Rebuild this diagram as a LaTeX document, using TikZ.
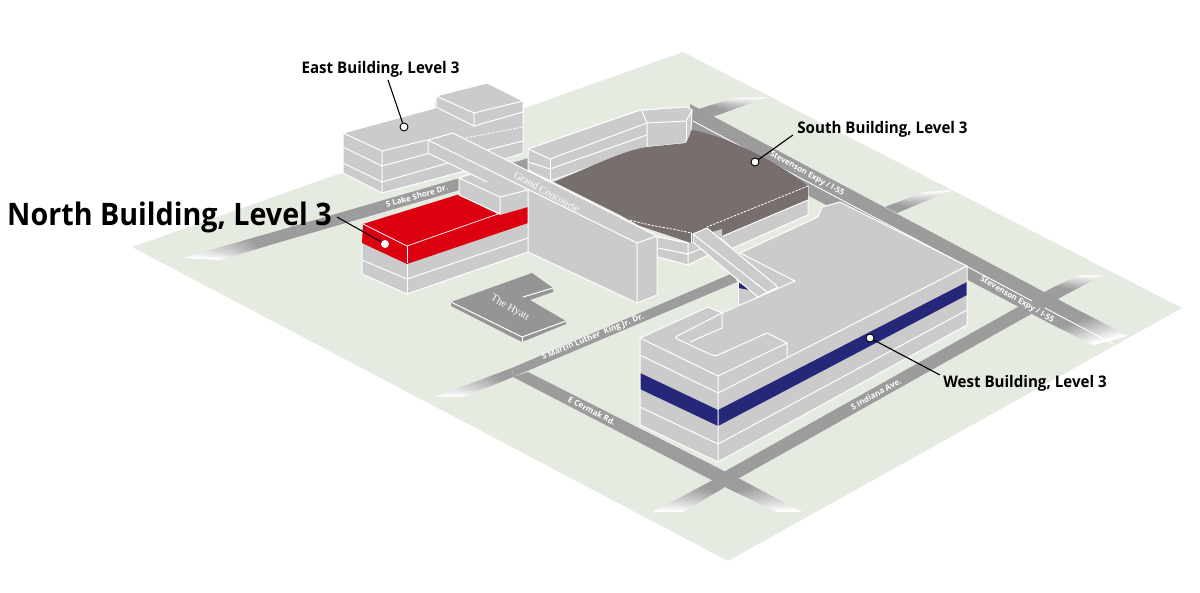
\documentclass[tikz,border=0pt]{standalone}
\usepackage{fontspec}
\setmainfont{Open Sans}
\newfontfamily\serifl{Liberation Serif}
\usetikzlibrary{calc}
\definecolor{ground}{HTML}{E6EBE2}
\definecolor{road}{HTML}{9C9C9C}
\definecolor{bld}{HTML}{CBCBCB}
\definecolor{south}{HTML}{776E6E}
\definecolor{northred}{HTML}{DC0011}
\definecolor{navy}{HTML}{27277A}
\definecolor{hyatt}{HTML}{959595}
\tikzset{
  wl/.style={white,line width=1pt,line join=round,line cap=round},
  thin wl/.style={white,line width=.7pt},
  dash wl/.style={white,line width=.8pt,dash pattern=on 2.5pt off 1.2pt},
  bf/.style={fill=bld,draw=white,line width=1pt,line join=round},
  roadlab/.style={text=white,font=\bfseries\fontsize{8}{9}\selectfont,inner sep=0pt},
  seriflab/.style={text=white,font=\serifl\fontsize{10.5}{11}\selectfont,inner sep=0pt},
  callout/.style={text=black,font=\bfseries\fontsize{16}{17}\selectfont,inner sep=0pt},
  bigcallout/.style={text=black,font=\bfseries\fontsize{31}{33}\selectfont,inner sep=0pt},
  leader/.style={black,line width=1.1pt},
  dot/.style={circle,fill=white,draw=black,line width=.9pt,minimum size=8pt,inner sep=0pt},
}
\newcommand\roadfade[4]{%
  \foreach \i in {0,...,23}{%
    \pgfmathsetmacro\ta{\i/24}%
    \pgfmathsetmacro\tb{min(1,(\i+1.5)/24)}%
    \pgfmathtruncatemacro\pc{min(100,125-125*\i/23)}%
    \fill[road!\pc!white] ($(#1)!\ta!(#4)$)--($(#2)!\ta!(#3)$)--($(#2)!\tb!(#3)$)--($(#1)!\tb!(#4)$)--cycle;
  }}
\begin{document}
\begin{tikzpicture}[x=1pt,y=-1pt]
\useasboundingbox (0,0) rectangle (1200,593);
% ground
\fill[ground] (132,247)--(683,52)--(1182,308)--(728,561)--cycle;
% roads
\fill[road] (270,233)--(705,107)--(715,116)--(270,245)--cycle;
\roadfade{270,233}{270,245}{220,260}{183,258}
\roadfade{705,107}{715,116}{768,97}{735,98}
\fill[road] (690,104)--(1080,311)--(1050,323.5)--(690,133)--cycle;
\roadfade{1080,311}{1050,323.5}{1093,345}{1128,336}
\roadfade{885,207}{897,213}{952,190}{925,192}
\fill[road] (713,478)--(1050,289)--(1065,295)--(725,486)--cycle;
\roadfade{1050,289}{1065,295}{1103,275}{1080,275}
\roadfade{713,480}{725,487}{683,512}{653,512}
\fill[road] (513,377)--(528,372)--(738,478)--(725,487)--cycle;
\roadfade{738,478}{725,487}{777,512}{802,512}
\fill[road] (512,368)--(733,273)--(737,282)--(513,377)--cycle;
\roadfade{512,368}{513,377}{463,397}{435,397}
% white line of the expressway
\draw[wl,line width=.9pt] (693,121)--(1032,301);
\draw[wl,line width=.9pt] (1045,308)--(1113,344);
% road labels
\node[roadlab,rotate=16] (lakeshore) at (417,196) {S Lake Shore Dr.};
\node[roadlab,rotate=-29] (stev1) at (807,174) {Stevenson Expy / I-55};
\node[roadlab,rotate=-30] (stev2) at (1017,300) {Stevenson Expy / I-55};
\node[roadlab,rotate=22] (mlk) at (593,337) {S Martin Luther\ \ King Jr. Dr.};
\node[roadlab,rotate=-28] (cermak) at (592,411) {E Cermak Rd.};
\node[roadlab,rotate=29] (indiana) at (876,394) {S Indiana Ave.};
% East building
\fill[bld] (343,133)--(435,108)--(436,96)--(487,83)--(523,101)--(523,153)--(506,160)--(382,193)--(343,173)--cycle;
\draw[wl] (343,133)--(343,173)--(382,193)--(506,160);
\draw[wl] (343,133)--(435,108);
\draw[wl] (343,133)--(382,151)--(382,193);
\draw[wl] (382,151)--(427,140);
\draw[wl] (343,147)--(382,166)--(445,149);
\draw[wl] (343,163)--(382,182)--(455,161);
\draw[wl] (436,96)--(487,83)--(523,101)--(474,113)--cycle;
\draw[wl] (436,96)--(436,107)--(474,126)--(474,113);
\draw[wl] (474,126)--(523,112);
\draw[dash wl] (455,140)--(523,127);
\draw[wl] (487,150)--(523,141);
\draw[wl] (523,101)--(523,153)--(505,159);
% South building: wing
\fill[bld] (528,149)--(640,111)--(687,107)--(692,110)--(691,130)--(686,143)--(647,147)--(554,182)--(550,181)--(528,170)--cycle;
\draw[wl] (528,149)--(640,110)--(687,107)--(692,110)--(686,121)--(647,123)--(550,159)--cycle;
\draw[wl] (642,111)--(647,123)--(647,147);
\draw[wl] (686,121)--(686,143);
\draw[wl] (692,110)--(691,130);
\draw[wl] (550,159)--(550,181);
\draw[wl] (528,149)--(528,170)--(550,181)--(647,147)--(686,143);
\draw[wl] (528,162)--(550,169)--(647,135);
% South building: lower parts
\fill[bld] (808,198)--(808,215)--(733,248)--(720,236)--cycle;
\draw[wl] (808,186)--(808,215)--(733,248);
\fill[bld] (658,237)--(688,243)--(700,238)--(716,250)--(688,265)--(658,257)--cycle;
\draw[wl] (658,237)--(688,243)--(688,265)--(658,257);
\draw[wl] (658,248)--(688,254)--(703,248);
\draw[wl] (688,265)--(713,253);
% South building: dark roof
\fill[south] (554,182) .. controls (590,167) and (625,150) .. (647,147)--(686,143)--(692,130) .. controls (725,136) and (775,160) .. (808,186)--(808,200)--(723,236)--(707,232)--(691,243)--(640,226)--(620,215)--cycle;
\draw[wl] (808,200)--(723,236);
\draw[dash wl] (808,186)--(707,227);
\draw[dash wl] (630,220) .. controls (650,226) and (670,228) .. (691,233);
\draw[wl] (691,233)--(691,243);
% small tower
\fill[bld] (712,232)--(722,229)--(722,238)--(716,240)--cycle;
% North building
\fill[bld] (362,243)--(407,263)--(528,222)--(528,252)--(407,294)--(362,274)--cycle;
\draw[wl] (362,243)--(362,274)--(407,294)--(528,252);
\draw[wl] (407,263)--(407,294);
\draw[wl] (362,260)--(407,279)--(528,238);
\fill[northred] (363,224)--(460,194)--(498,214)--(528,206)--(528,223)--(407,264)--(362,243)--cycle;
\draw[thin wl] (363,224)--(407,246)--(498,214);
\draw[thin wl] (407,246)--(407,263);
% small block by the concourse
\fill[bld] (459,178)--(483,170)--(528,192)--(528,207)--(500,215)--(459,195)--cycle;
\draw[wl] (459,178)--(483,170)--(528,190)--(500,197)--cycle;
\draw[wl] (459,178)--(459,195)--(500,214)--(500,197);
% Grand Concourse
\fill[bld] (428,140)--(428,153)--(490,184)--(528,190)--cycle;
\draw[wl] (428,140)--(428,153)--(487,182);
\fill[bld] (528,190)--(637,243)--(637,303)--(528,252)--cycle;
\draw[wl] (528,190)--(528,252)--(637,303);
\fill[bld] (637,243)--(657,236)--(657,295)--(637,303)--cycle;
\draw[bf] (428,140)--(453,133)--(657,236)--(637,243)--cycle;
\draw[wl] (637,243)--(637,303)--(657,295)--(657,236);
\node[seriflab,rotate=-29] (concourse) at (547,192) {Grand Concourse};
% Hyatt
\fill[hyatt] (451,302)--(532,273)--(553,288)--(553,292)--(530,300)--(566,321)--(566,324)--(522,342)--(451,306)--cycle;
\draw[wl] (451,302)--(522,337)--(566,321);
\draw[wl] (523,297)--(553,288);
\draw[wl] (522,337)--(522,342);
\node[seriflab,rotate=-29] (hyattlabel) at (510,308) {The Hyatt};
% West building
\fill[bld] (640,338)--(708,307)--(722,313)--(738,305)--(738,282)--(740,253)--(818,217)--(822,207)--(840,202)--(967,266)--(967,325)--(718,462)--(640,425)--cycle;
\fill[navy] (640,373)--(718,410)--(967,282)--(967,295)--(718,426)--(640,389)--cycle;
\fill[navy] (738,282)--(750,290)--(738,288)--cycle;
\draw[wl] (740,253)--(818,217)--(822,207)--(840,202)--(967,266)--(967,325)--(718,462)--(640,425)--(640,338)--(708,307)--(722,313)--(722,328)--(690,342);
\draw[wl] (640,338)--(718,376)--(718,462);
\draw[wl] (640,355)--(718,393)--(967,266);
\draw[wl] (640,407)--(718,444)--(967,310);
\draw[wl] (718,376)--(787,343)--(787,357);
\draw[wl] (722,313)--(677,336) .. controls (675,337) and (675,338) .. (677,339)--(712,355) .. controls (714,356) and (716,356) .. (718,355)--(767,333)--(787,343);
\draw[wl] (740,253)--(795,281)--(722,313);
\draw[wl] (738,282)--(738,305);
% Diagonal bridge
\draw[bf] (693,234)--(707,228)--(778,287)--(758,297)--(693,242)--cycle;
\draw[wl] (693,234)--(767,292);
% Callouts
\node[callout] (eastl) at (380.5,69) {\scalebox{.945}[1]{East Building, Level 3}};
\node[callout] (southl) at (882.5,129) {\scalebox{.945}[1]{South Building, Level 3}};
\node[callout] (westl) at (1025,383) {\scalebox{.945}[1]{West Building, Level 3}};
\node[bigcallout] (northl) at (169.5,217.5) {\scalebox{.925}[1]{North Building, Level 3}};
\coordinate (eastf) at (388,80);
\coordinate (southf) at (793,135);
\coordinate (westf) at (940,375);
\coordinate (northf) at (337,217);
\node[dot] (eastd) at (404,127) {};
\node[dot] (southd) at (755,162) {};
\node[dot] (westd) at (870,338) {};
\node[dot,draw=none] (northd) at (385,244) {};
\draw[leader] (eastf)--(eastd);
\draw[leader] (southf)--(southd);
\draw[leader] (westf)--(westd);
\draw[leader] (northf)--(northd);
\end{tikzpicture}
\end{document}
